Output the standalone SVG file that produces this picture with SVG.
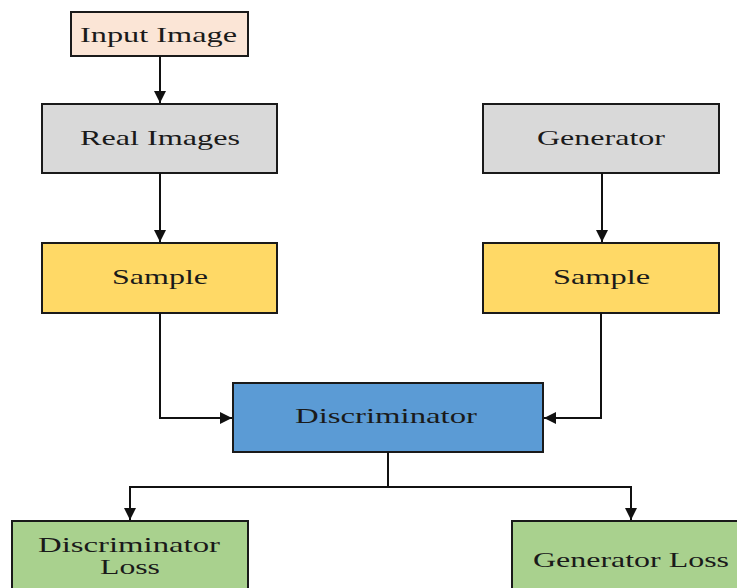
<svg xmlns="http://www.w3.org/2000/svg" width="737" height="588" viewBox="0 0 737 588">
<style>
.box{stroke:#1a1a1a;stroke-width:2}
.t{font-family:"Liberation Serif","Times New Roman",serif;font-size:21px;fill:#1a1a1a}
.c{fill:none;stroke:#111;stroke-width:2}
</style>
<defs>
<marker id="ah" viewBox="0 0 10 10" refX="10" refY="5" markerWidth="6" markerHeight="6" orient="auto" markerUnits="strokeWidth">
<path d="M0,0 L10,5 L0,10 z" fill="#111"/>
</marker>
</defs>
<rect width="737" height="588" fill="#fff"/>
<g id="input"><rect class="box" x="71" y="12" width="177" height="44" fill="#FBE5D6"/><text class="t" x="80" y="42" textLength="157" lengthAdjust="spacingAndGlyphs">Input Image</text></g>
<g id="real"><rect class="box" x="42" y="104" width="235" height="69" fill="#D9D9D9"/><text class="t" x="80" y="145" textLength="160" lengthAdjust="spacingAndGlyphs">Real Images</text></g>
<g id="generator"><rect class="box" x="483" y="104" width="236" height="69" fill="#D9D9D9"/><text class="t" x="537" y="145" textLength="128" lengthAdjust="spacingAndGlyphs">Generator</text></g>
<g id="sampleL"><rect class="box" x="42" y="243" width="235" height="70" fill="#FFD966"/><text class="t" x="112" y="284" textLength="96" lengthAdjust="spacingAndGlyphs">Sample</text></g>
<g id="sampleR"><rect class="box" x="483" y="243" width="236" height="70" fill="#FFD966"/><text class="t" x="553" y="284" textLength="97" lengthAdjust="spacingAndGlyphs">Sample</text></g>
<g id="disc"><rect class="box" x="233" y="383" width="310" height="69" fill="#5B9BD5"/><text class="t" x="295" y="423" textLength="182" lengthAdjust="spacingAndGlyphs">Discriminator</text></g>
<g id="discloss"><rect class="box" x="12" y="521" width="236" height="80" fill="#A9D18E"/><text class="t" x="38" y="552" textLength="182" lengthAdjust="spacingAndGlyphs">Discriminator</text><text class="t" x="100" y="574" textLength="60" lengthAdjust="spacingAndGlyphs">Loss</text></g>
<g id="genloss"><rect class="box" x="512" y="521" width="240" height="80" fill="#A9D18E"/><text class="t" x="533" y="567" textLength="196" lengthAdjust="spacingAndGlyphs">Generator Loss</text></g>
<g id="connectors">
<path class="c" d="M160,56 V103" marker-end="url(#ah)"/>
<path class="c" d="M160,173 V242" marker-end="url(#ah)"/>
<path class="c" d="M602,173 V242" marker-end="url(#ah)"/>
<path class="c" d="M160,313 V418 H232" marker-end="url(#ah)"/>
<path class="c" d="M601,313 V418 H544" marker-end="url(#ah)"/>
<path class="c" d="M388,452 V487 H130 V520" marker-end="url(#ah)"/>
<path class="c" d="M388,487 H631 V520" marker-end="url(#ah)"/>
</g>
</svg>
